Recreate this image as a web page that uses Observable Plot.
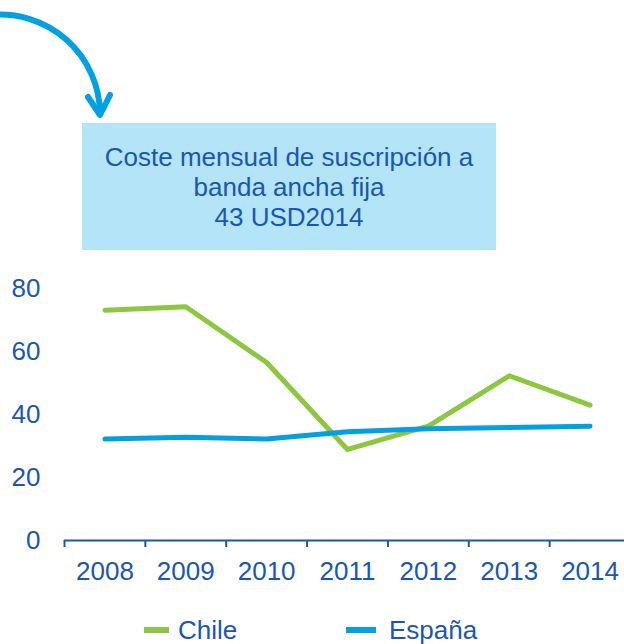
<!DOCTYPE html>
<html><head><meta charset="utf-8">
<script src="https://cdn.jsdelivr.net/npm/d3@7"></script>
<script src="https://cdn.jsdelivr.net/npm/@observablehq/plot@0.6"></script>
<style>
body{margin:0;background:#fff;font-family:"Liberation Sans",Arial,sans-serif;}
#wrap{position:relative;width:624px;height:644px;overflow:hidden;background:#fff;}
#arrow{position:absolute;left:0;top:0;}
#box{position:absolute;left:82px;top:123px;width:414px;height:127px;background:#b3e4f8;display:flex;align-items:center;justify-content:center;text-align:center;font-size:26px;line-height:30px;color:#1a57b0;}
#chart{position:absolute;left:0;top:260px;}
.leg-sw{position:absolute;height:6px;}
.leg-tx{position:absolute;font-size:26px;line-height:30px;color:#1a57b0;}
</style></head><body>
<div id="wrap">
  <svg id="arrow" width="140" height="130">
    <path d="M -10,15 A 100,100 0 0 1 100,113" fill="none" stroke="#00a0e3" stroke-width="6" stroke-linecap="round"/>
    <polyline points="88,97 100,115 110,95" fill="none" stroke="#00a0e3" stroke-width="6" stroke-linecap="round" stroke-linejoin="round"/>
  </svg>
  <div id="box"></div>
  <div id="chart"></div>
  <div id="legend"></div>
</div>
<script>
const years = [2008, 2009, 2010, 2011, 2012, 2013, 2014];
const chile = [73.1, 74.2, 56.5, 28.9, 36.3, 52.3, 43.0];
const espana = [32.2, 32.8, 32.2, 34.5, 35.5, 35.9, 36.3];
const seriesNames = ["Chile", "España"];
const seriesColors = ["#8dc63f", "#00a0e3"];
const yTicks = [0, 20, 40, 60, 80];
const boxLines = ["Coste mensual de suscripción a", "banda ancha fija", "43 USD2014"];

const textColor = "#1a57b0";
const boundaries = years.map(y => y - 0.5);

document.getElementById("box").innerHTML = boxLines.join("<br>");

const data = [];
years.forEach((y, i) => data.push({year: y, value: chile[i], series: seriesNames[0]}));
years.forEach((y, i) => data.push({year: y, value: espana[i], series: seriesNames[1]}));

const chart = Plot.plot({
  width: 624,
  height: 345,
  marginLeft: 64,
  marginRight: 0,
  marginTop: 28,
  marginBottom: 65,
  style: {fontFamily: "'Liberation Sans', Arial, sans-serif", color: textColor, background: "transparent"},
  x: {domain: [2007.5, 2014.5], range: [64, 630], label: null},
  y: {domain: [0, 80], label: null},
  color: {domain: seriesNames, range: seriesColors},
  marks: [
    Plot.axisY({ticks: yTicks, tickSize: 0, tickPadding: 24, fontSize: 26, color: textColor, label: null}),
    Plot.axisX({ticks: boundaries, tickSize: 7, tickFormat: () => "", color: textColor, strokeWidth: 2, label: null}),
    Plot.axisX({ticks: years, tickSize: 0, tickPadding: 21, fontSize: 26, color: textColor, tickFormat: d => String(d), label: null}),
    Plot.ruleY([0], {x1: 2007.5, x2: 2014.5, stroke: textColor, strokeWidth: 2}),
    Plot.line(data, {x: "year", y: "value", z: "series", stroke: "series", strokeWidth: 5, strokeLinecap: "round", strokeLinejoin: "round"})
  ]
});
document.getElementById("chart").appendChild(chart);

const legend = document.getElementById("legend");
const legPos = [{sw: 144, w: 25, tx: 178}, {sw: 346, w: 30, tx: 389}];
seriesNames.forEach((name, i) => {
  const sw = document.createElement("div");
  sw.className = "leg-sw";
  sw.style.left = legPos[i].sw + "px";
  sw.style.width = legPos[i].w + "px";
  sw.style.top = "627px";
  sw.style.background = seriesColors[i];
  legend.appendChild(sw);
  const tx = document.createElement("div");
  tx.className = "leg-tx";
  tx.style.left = legPos[i].tx + "px";
  tx.style.top = "615px";
  tx.textContent = name;
  legend.appendChild(tx);
});
</script>
</body></html>
